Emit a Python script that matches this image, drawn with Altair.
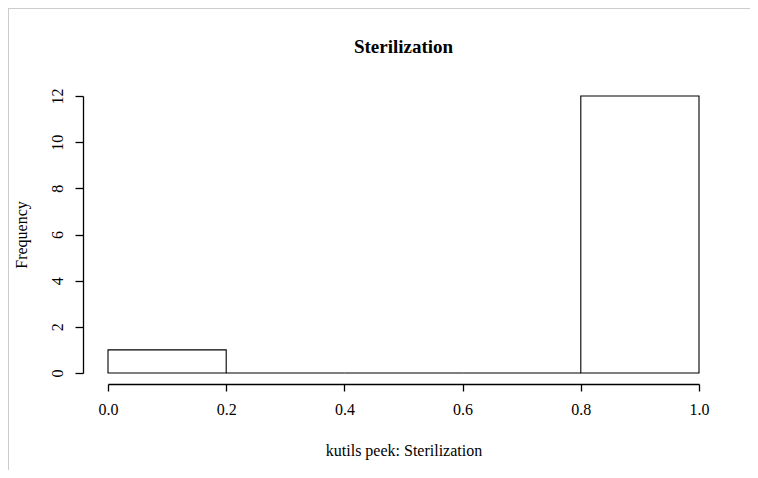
import altair as alt
import pandas as pd

# Histogram bins (left edge, right edge) and counts
bin_start = [0.0, 0.2, 0.4, 0.6, 0.8]
bin_end = [0.2, 0.4, 0.6, 0.8, 1.0]
counts = [1, 0, 0, 0, 12]
x_ticks = [0.0, 0.2, 0.4, 0.6, 0.8, 1.0]
y_ticks = [0, 2, 4, 6, 8, 10, 12]

df = pd.DataFrame({"b0": bin_start, "b1": bin_end, "n": counts})

FONT = "Liberation Serif"

bars = alt.Chart(df).mark_rect(fill="white", stroke="black", strokeWidth=1.1).encode(
    x=alt.X("b0:Q",
            scale=alt.Scale(domain=[0, 1], nice=False, zero=False),
            axis=alt.Axis(values=x_ticks, format=".1f", title="kutils peek: Sterilization",
                          offset=11, tickSize=7, labelPadding=10, titlePadding=25,
                          domain=True, domainColor="black", domainWidth=1.3,
                          tickColor="black", tickWidth=1.3, grid=False,
                          labelColor="black", titleColor="black",
                          labelFont=FONT, titleFont=FONT, labelFontSize=16, titleFontSize=16,
                          titleFontWeight="normal", labelFlush=False)),
    x2="b1:Q",
    y=alt.Y("n:Q",
            scale=alt.Scale(domain=[0, 12], nice=False),
            axis=alt.Axis(values=y_ticks, format="d", title="Frequency",
                          offset=25, tickSize=8, labelPadding=10, titlePadding=20,
                          labelAngle=270, labelAlign="center", labelBaseline="bottom",
                          domain=True, domainColor="black", domainWidth=1.3,
                          tickColor="black", tickWidth=1.3, grid=False,
                          labelColor="black", titleColor="black",
                          labelFont=FONT, titleFont=FONT, labelFontSize=16, titleFontSize=16,
                          titleFontWeight="normal", labelFlush=False)),
    y2=alt.datum(0),
)

frame_left = alt.Chart(df).mark_rule(color="#cccccc", strokeWidth=2).encode(
    x=alt.value(-100), y=alt.value(-88), y2=alt.value(400)
)
frame_top = alt.Chart(df).mark_rule(color="#cccccc", strokeWidth=2).encode(
    x=alt.value(-100), x2=alt.value(660), y=alt.value(-88)
)

chart = alt.layer(frame_left, frame_top, bars).properties(
    width=591, height=277,
    title=alt.TitleParams("Sterilization", font=FONT, fontSize=19, fontWeight="bold",
                          color="black", anchor="middle", offset=0, dy=50),
    autosize=alt.AutoSizeParams(type="none"),
    padding={"left": 100, "top": 88, "right": 51, "bottom": 97},
).configure(background="white").configure_view(stroke=None)

chart.save("out.html", embed_options={"renderer": "svg", "actions": False})
